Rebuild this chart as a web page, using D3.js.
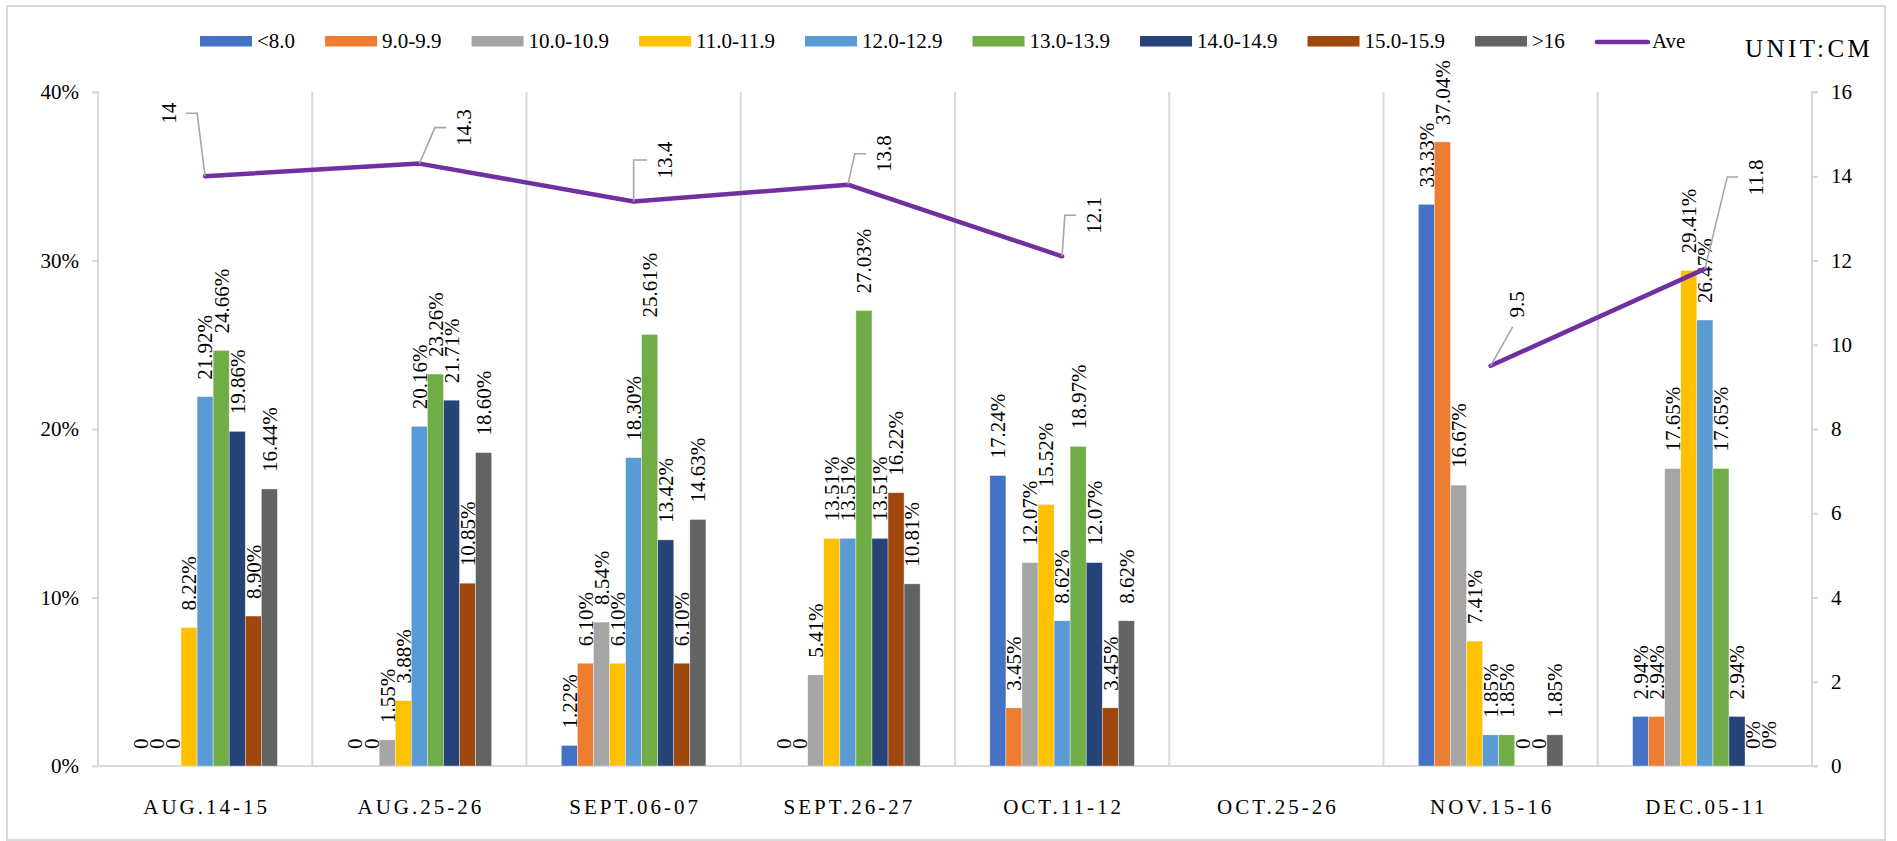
<!DOCTYPE html>
<html><head><meta charset="utf-8">
<script src="https://cdn.jsdelivr.net/npm/d3@7"></script>
<style>
body{margin:0;background:#fff}
svg text{font-family:'Liberation Serif',serif;fill:#000}
</style>
</head><body>
<svg id="chart" width="1897" height="841"></svg>
<script>
// ---------- data ----------
const categories = ["AUG.14-15","AUG.25-26","SEPT.06-07","SEPT.26-27","OCT.11-12","OCT.25-26","NOV.15-16","DEC.05-11"];
const seriesNames = ["<8.0","9.0-9.9","10.0-10.9","11.0-11.9","12.0-12.9","13.0-13.9","14.0-14.9","15.0-15.9",">16"];
const seriesColors = ["#4472C4","#ED7D31","#A5A5A5","#FFC000","#5B9BD5","#70AD47","#264478","#9E480E","#636363"];
// percentages per size class, one value per category (null = no sampling)
const sLt8   = [0,     0,     1.22,  0,     17.24, null, 33.33, 2.94];
const s9     = [0,     0,     6.10,  0,     3.45,  null, 37.04, 2.94];
const s10    = [0,     1.55,  8.54,  5.41,  12.07, null, 16.67, 17.65];
const s11    = [8.22,  3.88,  6.10,  13.51, 15.52, null, 7.41,  29.41];
const s12    = [21.92, 20.16, 18.30, 13.51, 8.62,  null, 1.85,  26.47];
const s13    = [24.66, 23.26, 25.61, 27.03, 18.97, null, 1.85,  17.65];
const s14    = [19.86, 21.71, 13.42, 13.51, 12.07, null, 0,     2.94];
const s15    = [8.90,  10.85, 6.10,  16.22, 3.45,  null, 0,     0];
const sGt16  = [16.44, 18.60, 14.63, 10.81, 8.62,  null, 1.85,  0];
const aveValues = [14, 14.3, 13.4, 13.8, 12.1, null, 9.5, 11.8];
// how a zero value is written in each category's labels
const zeroLabels = ["0","0","0","0","0","0","0","0%"];
const leftTicks = [0, 10, 20, 30, 40];
const leftTickLabels = ["0%","10%","20%","30%","40%"];
const rightTicks = [0, 2, 4, 6, 8, 10, 12, 14, 16];
const unitText = "UNIT:CM";

const seriesValues = [sLt8, s9, s10, s11, s12, s13, s14, s15, sGt16];

// annotation placement of Ave labels relative to their point:
// [labelDx, labelDy, bendDx, bendDy, endDx]
const aveLabelPlacement = [
  [-36, -63, -8, -63, -19],
  [44.5, -36, 15.5, -36, 27],
  [31, -41.5, 0, -41.5, 13.5],
  [36, -31, 7, -31, 18],
  [32, -41, 2.7, -41, 14],
  null,
  [26, -61.5, 22, -39, 22],
  [51, -91.5, 22.4, -92, 33.4]
];

// ---------- drawing ----------
const FONT = "'Liberation Serif',serif";
const svg = d3.select("#chart");
const L = 98, R = 1812, T = 92, B = 766;
const grid = "#d9d9d9";

svg.append("rect").attr("x",7).attr("y",6).attr("width",1878).attr("height",834)
  .attr("fill","none").attr("stroke",grid).attr("stroke-width",2);

const x0 = d3.scaleBand().domain(categories).range([L, R]).paddingInner(0).paddingOuter(0);
const x1 = d3.scaleBand().domain(seriesNames).range([0, x0.bandwidth()]).paddingInner(0).paddingOuter(2.17);
const yL = d3.scaleLinear().domain([0, 40]).range([B, T]);
const yR = d3.scaleLinear().domain([0, 16]).range([B, T]);

// vertical category gridlines
svg.append("g").selectAll("line").data(categories.slice(1)).join("line")
  .attr("x1", d => x0(d)).attr("x2", d => x0(d)).attr("y1", T).attr("y2", B)
  .attr("stroke", grid).attr("stroke-width", 2);

// left axis
const gL = svg.append("g").attr("transform", `translate(${L},0)`)
  .call(d3.axisLeft(yL).tickValues(leftTicks).tickFormat((d,i)=>leftTickLabels[i]).tickSize(6).tickPadding(13));
gL.attr("font-family", FONT);
gL.select(".domain").attr("stroke", grid).attr("stroke-width", 2).attr("d", `M-6,${T}H0V${B}H-6`);
gL.selectAll(".tick line").attr("stroke", grid).attr("stroke-width", 2);
gL.selectAll(".tick text").style("font-size","21px").style("font-family", FONT).attr("fill","#000");

// right axis
const gR = svg.append("g").attr("transform", `translate(${R},0)`)
  .call(d3.axisRight(yR).tickValues(rightTicks).tickFormat(d3.format("d")).tickSize(6).tickPadding(13));
gR.attr("font-family", FONT);
gR.select(".domain").attr("stroke", grid).attr("stroke-width", 2).attr("d", `M6,${T}H0V${B}H6`);
gR.selectAll(".tick line").attr("stroke", grid).attr("stroke-width", 2);
gR.selectAll(".tick text").style("font-size","21px").style("font-family", FONT).attr("fill","#000");

// bottom axis
const gB = svg.append("g").attr("transform", `translate(0,${B})`)
  .call(d3.axisBottom(x0).tickSize(0).tickPadding(33));
gB.attr("font-family", FONT);
gB.select(".domain").attr("stroke", grid).attr("stroke-width", 2).attr("d", `M${L},0H${R}`);
gB.selectAll(".tick text").style("font-size","21px").style("letter-spacing","3px")
  .style("font-family", FONT).attr("fill","#000").attr("dx","1.5px");

// bars
const barData = [];
categories.forEach((c, ci) => {
  seriesNames.forEach((s, si) => {
    const v = seriesValues[si][ci];
    if (v !== null && v !== undefined) barData.push({c, ci, s, si, v});
  });
});
svg.append("g").selectAll("rect").data(barData).join("rect")
  .attr("x", d => x0(d.c) + x1(d.s))
  .attr("width", x1.bandwidth())
  .attr("y", d => yL(d.v))
  .attr("height", d => B - yL(d.v))
  .attr("fill", d => seriesColors[d.si])
  .attr("stroke", "rgba(255,255,255,0.6)").attr("stroke-width", 0.6);

// bar labels
svg.append("g").selectAll("text").data(barData).join("text")
  .attr("transform", d => `translate(${x0(d.c) + x1(d.s) + x1.bandwidth()/2},${yL(d.v) - 17}) rotate(-90)`)
  .attr("dy", "0.35em")
  .attr("text-anchor", "start")
  .style("font-size", "21px").style("font-family", FONT)
  .text(d => d.v === 0 ? zeroLabels[d.ci] : d.v.toFixed(2) + "%");

// Ave line
const avePts = categories.map((c, i) => ({c, i, v: aveValues[i]}));
const line = d3.line().defined(d => d.v !== null)
  .x(d => x0(d.c) + x0.bandwidth()/2).y(d => yR(d.v));
svg.append("path").datum(avePts).attr("d", line)
  .attr("fill","none").attr("stroke","#7030A0").attr("stroke-width",4.5)
  .attr("stroke-linejoin","round").attr("stroke-linecap","round");

// Ave labels with leader lines
const aveLab = svg.append("g");
avePts.filter(d => d.v !== null).forEach(d => {
  const p = aveLabelPlacement[d.i];
  const px = x0(d.c) + x0.bandwidth()/2, py = yR(d.v);
  aveLab.append("path")
    .attr("d", `M${px},${py}L${px + p[2]},${py + p[3]}L${px + p[4]},${py + p[3]}`)
    .attr("fill","none").attr("stroke","#a6a6a6").attr("stroke-width",1.6);
  aveLab.append("text")
    .attr("transform", `translate(${px + p[0]},${py + p[1]}) rotate(-90)`)
    .attr("text-anchor","middle").attr("dy","0.35em")
    .style("font-size","21px").style("font-family", FONT)
    .text(d3.format("")(d.v));
});

// legend
const leg = svg.append("g");
let lx = 200;
seriesNames.forEach((s, i) => {
  leg.append("rect").attr("x", lx).attr("y", 36).attr("width", 52).attr("height", 10.5).attr("fill", seriesColors[i]);
  const t = leg.append("text").attr("x", lx + 57).attr("y", 48)
    .style("font-size","21px").style("font-family", FONT).text(s);
  lx = lx + 57 + t.node().getComputedTextLength() + 30;
});
leg.append("line").attr("x1", lx + 2).attr("x2", lx + 53).attr("y1", 42).attr("y2", 42)
  .attr("stroke","#7030A0").attr("stroke-width",4.5).attr("stroke-linecap","round");
leg.append("text").attr("x", lx + 57).attr("y", 48)
  .style("font-size","21px").style("font-family", FONT).text("Ave");

svg.append("text").attr("x", 1745).attr("y", 57).style("font-size","25px")
  .style("font-family", FONT).style("letter-spacing","3.4px").text(unitText);
</script>
</body></html>
